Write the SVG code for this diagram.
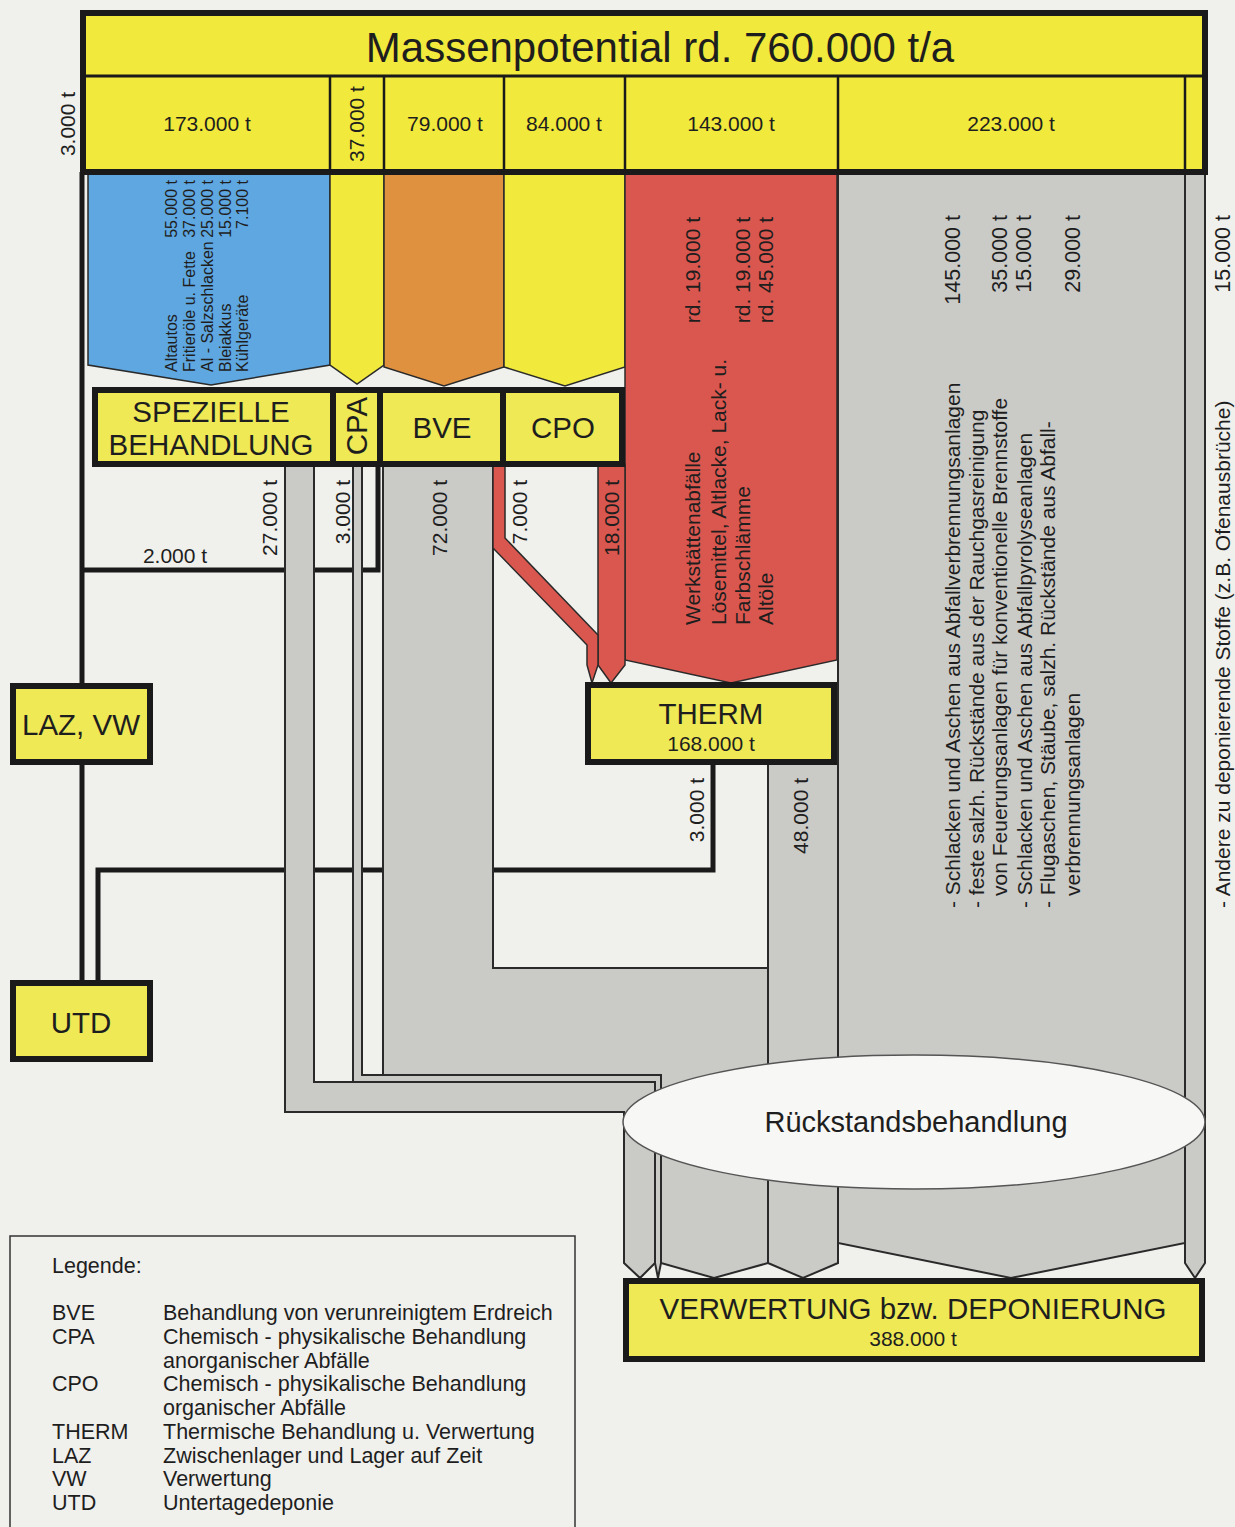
<svg xmlns="http://www.w3.org/2000/svg" width="1235" height="1527" viewBox="0 0 1235 1527">
<style>
text{font-family:"Liberation Sans",Arial,sans-serif;fill:#1e1e1e}
.t17{font-size:16px}.t20{font-size:20px}.t21{font-size:21px}.t28{font-size:29px}.t29{font-size:29.5px}.tl{font-size:21.5px}
.m{text-anchor:middle}.e{text-anchor:end}
.conn{fill:none;stroke:#1a1a1a;stroke-width:5}
.flow{fill:#cacac7;stroke:#2a2a2a;stroke-width:2;stroke-linejoin:miter}
.blk{stroke:#2a2a2a;stroke-width:1.5}
.box{fill:#efe955;stroke:#1a1a1a;stroke-width:6}
.div{stroke:#1a1a1a;stroke-width:6}
</style>
<rect x="0" y="0" width="1235" height="1527" fill="#f0f0ec"/>

<g id="connectors">
<path class="conn" d="M82,172 V983"/>
<path class="conn" d="M82,570 H378 V464"/>
<path class="conn" d="M98,983 V870 H713 V762"/>
</g>

<g id="flows">
<path class="flow" d="M285,464 V1112 H624 V1263 L640,1278 L655,1263 V1082 H314 V464 Z"/>
<path class="flow" d="M353,464 V1082 H655 V1263 L658,1278 L661,1263 V1075 H362 V464 Z"/>
<path class="flow" d="M383,464 V1075 H661 V1263 L714,1278 L768,1263 V968 H493 V464 Z"/>
<path class="flow" d="M768,762 V1263 L803,1278 L838,1263 V762 Z"/>
<path class="flow" d="M838,172 V1243 L1011,1278 L1185,1243 V172 Z"/>
<path class="flow" d="M1185,172 V1263 L1195,1278 L1205,1263 V172 Z"/>
</g>

<g id="rueckstand">
<ellipse cx="914" cy="1122" rx="291" ry="67" fill="#f7f7f5" stroke="#555" stroke-width="1.5"/>
<text class="t28 m" x="916" y="1132">Rückstandsbehandlung</text>
</g>

<g id="inputs">
<path class="blk" fill="#5ea7e0" d="M88,172 V365 L211,385 L330,365 V172 Z"/>
<path class="blk" fill="#f1e93b" d="M330,172 V365 L357,384 L384,365 V172 Z"/>
<path class="blk" fill="#e0913f" d="M384,172 V367 L444,386 L504,367 V172 Z"/>
<path class="blk" fill="#f1e93b" d="M504,172 V367 L565,386 L625,367 V172 Z"/>
<path class="blk" fill="#d9574f" d="M625,172 V660 L731,683 L837,660 V172 Z"/>
<path class="blk" fill="#d9574f" d="M598,464 V665 L611,683 L625,665 V464 Z"/>
<path class="blk" fill="#d9574f" d="M493,464 V548 L587,645 V665 L592,683 L598,665 V635 L505,538 V464 Z"/>
</g>

<g id="treatment-boxes">
<rect class="box" x="95" y="390" width="527" height="74"/>
<line class="div" x1="333" y1="390" x2="333" y2="464"/>
<line class="div" x1="380" y1="390" x2="380" y2="464"/>
<line class="div" x1="503" y1="390" x2="503" y2="464"/>
<text class="t29 m" x="211" y="422">SPEZIELLE</text>
<text class="t29 m" x="211" y="455">BEHANDLUNG</text>
<text class="t29 m" transform="translate(367,426) rotate(-90)">CPA</text>
<text class="t29 m" x="442" y="438">BVE</text>
<text class="t29 m" x="563" y="438">CPO</text>
</g>

<g id="therm">
<rect class="box" x="588" y="685" width="246" height="77"/>
<text class="t29 m" x="711" y="724">THERM</text>
<text class="t21 m" x="711" y="751">168.000 t</text>
</g>

<g id="laz-vw">
<rect class="box" x="13" y="686" width="137" height="76"/>
<text class="t29 m" x="81" y="735">LAZ, VW</text>
</g>

<g id="utd">
<rect class="box" x="13" y="983" width="137" height="76"/>
<text class="t29 m" x="81" y="1033">UTD</text>
</g>

<g id="verwertung">
<rect class="box" x="626" y="1281" width="576" height="78"/>
<text class="t29 m" x="913" y="1319">VERWERTUNG bzw. DEPONIERUNG</text>
<text class="t21 m" x="913" y="1346">388.000 t</text>
</g>

<g id="massenpotential">
<rect x="83" y="13" width="1122" height="159" fill="#f1e93b"/>
<line stroke="#1a1a1a" stroke-width="3" x1="83" y1="76" x2="1205" y2="76"/>
<g stroke="#1a1a1a" stroke-width="2.5">
<line x1="330" y1="76" x2="330" y2="172"/>
<line x1="384" y1="76" x2="384" y2="172"/>
<line x1="504" y1="76" x2="504" y2="172"/>
<line x1="625" y1="76" x2="625" y2="172"/>
<line x1="838" y1="76" x2="838" y2="172"/>
<line x1="1185" y1="76" x2="1185" y2="172"/>
</g>
<line stroke="#1a1a1a" stroke-width="5" x1="83" y1="172" x2="1205" y2="172"/>
<rect x="83" y="13" width="1122" height="159" fill="none" stroke="#1a1a1a" stroke-width="6"/>
<text x="660" y="62" class="m" style="font-size:42px">Massenpotential rd. 760.000 t/a</text>
<text class="t21 m" x="207" y="131">173.000 t</text>
<text class="t21 m" transform="translate(364,124) rotate(-90)">37.000 t</text>
<text class="t21 m" x="445" y="131">79.000 t</text>
<text class="t21 m" x="564" y="131">84.000 t</text>
<text class="t21 m" x="731" y="131">143.000 t</text>
<text class="t21 m" x="1011" y="131">223.000 t</text>
<text class="t21 m" transform="translate(75,124) rotate(-90)">3.000 t</text>
</g>

<g id="input-details">
<text class="t17" transform="translate(177,372) rotate(-90)">Altautos</text>
<text class="t17" transform="translate(195,372) rotate(-90)">Fritieröle u. Fette</text>
<text class="t17" transform="translate(213,372) rotate(-90)">Al - Salzschlacken</text>
<text class="t17" transform="translate(231,372) rotate(-90)">Bleiakkus</text>
<text class="t17" transform="translate(248,372) rotate(-90)">Kühlgeräte</text>
<text class="t17 e" transform="translate(177,180) rotate(-90)">55.000 t</text>
<text class="t17 e" transform="translate(195,180) rotate(-90)">37.000 t</text>
<text class="t17 e" transform="translate(213,180) rotate(-90)">25.000 t</text>
<text class="t17 e" transform="translate(231,180) rotate(-90)">15.000 t</text>
<text class="t17 e" transform="translate(248,180) rotate(-90)">7.100 t</text>

<text class="t21" transform="translate(700,625) rotate(-90)">Werkstättenabfälle</text>
<text class="t21" transform="translate(726,625) rotate(-90)">Lösemittel, Altlacke, Lack- u.</text>
<text class="t21" transform="translate(750,625) rotate(-90)">Farbschlämme</text>
<text class="t21" transform="translate(773,625) rotate(-90)">Altöle</text>
<text class="t21 e" transform="translate(700,217) rotate(-90)">rd. 19.000 t</text>
<text class="t21 e" transform="translate(750,217) rotate(-90)">rd. 19.000 t</text>
<text class="t21 e" transform="translate(773,217) rotate(-90)">rd. 45.000 t</text>

<text class="t21" transform="translate(960,908) rotate(-90)">- Schlacken und Aschen aus Abfallverbrennungsanlagen</text>
<text class="t21" transform="translate(984,908) rotate(-90)">- feste salzh. Rückstände aus der Rauchgasreinigung</text>
<text class="t21" transform="translate(1007,896) rotate(-90)">von Feuerungsanlagen für konventionelle Brennstoffe</text>
<text class="t21" transform="translate(1032,908) rotate(-90)">- Schlacken und Aschen aus Abfallpyrolyseanlagen</text>
<text class="t21" transform="translate(1055,908) rotate(-90)">- Flugaschen, Stäube, salzh. Rückstände aus Abfall-</text>
<text class="t21" transform="translate(1080,896) rotate(-90)">verbrennungsanlagen</text>
<text class="tl e" transform="translate(960,215) rotate(-90)">145.000 t</text>
<text class="tl e" transform="translate(1007,215) rotate(-90)">35.000 t</text>
<text class="tl e" transform="translate(1031,215) rotate(-90)">15.000 t</text>
<text class="tl e" transform="translate(1080,215) rotate(-90)">29.000 t</text>
<text class="t21" transform="translate(1230,908) rotate(-90)">- Andere zu deponierende Stoffe (z.B. Ofenausbrüche)</text>
<text class="tl e" transform="translate(1230,215) rotate(-90)">15.000 t</text>
</g>

<g id="flow-labels">
<text class="t21 e" transform="translate(277,480) rotate(-90)">27.000 t</text>
<text class="t21 e" transform="translate(350,480) rotate(-90)">3.000 t</text>
<text class="t21 e" transform="translate(447,480) rotate(-90)">72.000 t</text>
<text class="t21 e" transform="translate(527,480) rotate(-90)">7.000 t</text>
<text class="t21 e" transform="translate(619,480) rotate(-90)">18.000 t</text>
<text class="t21 e" transform="translate(704,778) rotate(-90)">3.000 t</text>
<text class="t21 e" transform="translate(808,778) rotate(-90)">48.000 t</text>
<text class="t21 m" x="175" y="563">2.000 t</text>
</g>

<g id="legend">
<rect x="10" y="1236" width="565" height="300" fill="none" stroke="#333" stroke-width="1.5"/>
<text class="tl" x="52" y="1273">Legende:</text>
<text class="tl" x="52" y="1320">BVE</text>
<text class="tl" x="163" y="1320">Behandlung von verunreinigtem Erdreich</text>
<text class="tl" x="52" y="1344">CPA</text>
<text class="tl" x="163" y="1344">Chemisch - physikalische Behandlung</text>
<text class="tl" x="163" y="1368">anorganischer Abfälle</text>
<text class="tl" x="52" y="1391">CPO</text>
<text class="tl" x="163" y="1391">Chemisch - physikalische Behandlung</text>
<text class="tl" x="163" y="1415">organischer Abfälle</text>
<text class="tl" x="52" y="1439">THERM</text>
<text class="tl" x="163" y="1439">Thermische Behandlung u. Verwertung</text>
<text class="tl" x="52" y="1463">LAZ</text>
<text class="tl" x="163" y="1463">Zwischenlager und Lager auf Zeit</text>
<text class="tl" x="52" y="1486">VW</text>
<text class="tl" x="163" y="1486">Verwertung</text>
<text class="tl" x="52" y="1510">UTD</text>
<text class="tl" x="163" y="1510">Untertagedeponie</text>
</g>
</svg>
